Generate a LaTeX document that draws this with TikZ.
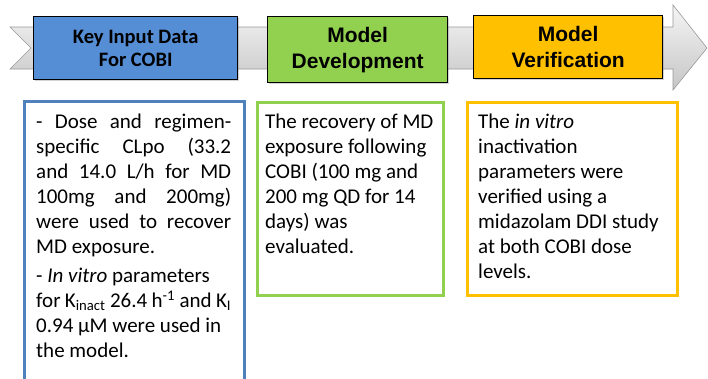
\documentclass[tikz,border=0pt]{standalone}
\usepackage{fontspec}
\setmainfont{Carlito}
\newfontfamily\arialfont{Liberation Sans}
\usepackage{xcolor}
\usetikzlibrary{positioning, shadows}

\definecolor{headblue}{HTML}{558ED5}
\definecolor{headgreen}{HTML}{92D050}
\definecolor{headorange}{HTML}{FFC000}
\definecolor{lineblue}{HTML}{4F81BD}

\tikzset{
  header/.style = {draw = black, line width = 1.3pt, minimum height = 63pt,
    drop shadow = {shadow xshift = 1pt, shadow yshift = -1.5pt, opacity = 0.35}},
  textbox/.style = {fill = white, line width = 3pt,
    drop shadow = {shadow xshift = 1pt, shadow yshift = -1.5pt, opacity = 0.25}},
  bodytext/.style = {inner sep = 0pt, anchor = north west, align = left,
    font = \fontsize{21}{25}\selectfont}
}

\begin{document}
\begin{tikzpicture}[x = 1pt, y = -1pt]
\useasboundingbox (0, 0) rectangle (708, 378);

% grey process arrow behind the headers
\shade [top color = gray!8, bottom color = gray!45, draw = gray!80, line width = 0.6pt]
  (10, 27) -- (673, 27) -- (673, 5) -- (707, 48) -- (673, 90) -- (673, 69)
  -- (10, 69) -- (31, 48) -- cycle;

% headers
\node [header, fill = headblue, minimum width = 204pt, anchor = north west,
  align = center, font = \bfseries\fontsize{20.5}{23}\selectfont]
  (input) at (33, 16) {Key Input Data\\For COBI};
\node [header, fill = headgreen, minimum width = 180pt, minimum height = 66pt,
  anchor = north west, align = center, font = \arialfont\bfseries\fontsize{21}{26}\selectfont]
  (devel) at (267, 16) {Model\\Development};
\node [header, fill = headorange, minimum width = 189pt, anchor = north west,
  align = center, font = \arialfont\bfseries\fontsize{21}{26}\selectfont]
  (verif) at (473, 15) {Model\\Verification};

% text boxes below
\draw [textbox, draw = lineblue] (24, 101) rectangle (244, 392);
\draw [textbox, draw = headgreen] (257, 102) rectangle (443, 295);
\draw [textbox, draw = headorange] (467, 102) rectangle (677, 295);

\node [bodytext, text width = 195pt, align = justify] (dose) at (36, 114)
  {- Dose and regimen-\linebreak specific CLpo (33.2\linebreak and 14.0 L/h for MD\linebreak
   100mg and 200mg)\linebreak were used to recover\linebreak MD exposure.\par
   \vspace{4pt}
   \raggedright - \textit{In vitro} parameters\newline
   for K\textsubscript{inact} 26.4 h\textsuperscript{-1} and K\textsubscript{I}\newline
   0.94 µM were used in\newline the model.};
\node [bodytext] (recov) at (265, 114)
  {The recovery of MD\\exposure following\\COBI (100 mg and\\200 mg QD for 14\\days) was\\evaluated.};
\node [bodytext] (check) at (478, 114)
  {The \textit{in vitro}\\inactivation\\parameters were\\verified using a\\midazolam DDI study\\at both COBI dose\\levels.};
\end{tikzpicture}
\end{document}
